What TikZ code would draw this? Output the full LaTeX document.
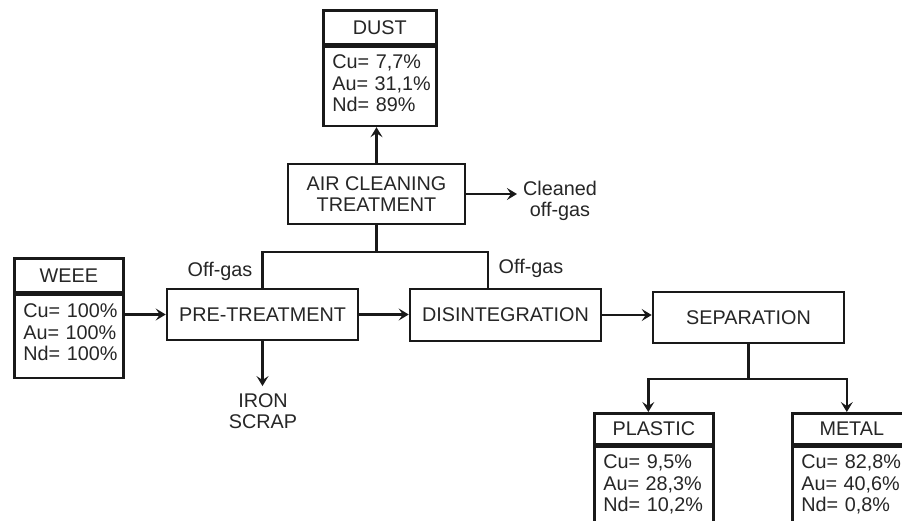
\documentclass[tikz,border=0pt]{standalone}
\usepackage{fontspec}
\setmainfont{Liberation Sans}
\usetikzlibrary{arrows.meta,calc}
\begin{document}
\begin{tikzpicture}[x=1pt,y=-1pt,
  font=\fontsize{19.8}{21.5}\selectfont,
  every node/.style={text=black!85},
  ln/.style={line width=2.6pt, draw=black!90},
  proc/.style={ln, draw, rectangle, inner sep=0pt, minimum width=191pt, minimum height=51pt, align=center},
  hdr/.style={ln, draw, rectangle, inner sep=0pt, anchor=north west},
  body/.style={ln, draw, rectangle, inner xsep=9pt, inner ysep=0pt, anchor=north west, align=left, text height=22pt},
  arr/.style={ln, -{Stealth[length=10pt,width=12pt,inset=4pt]}},
  lbl/.style={inner sep=0pt, align=center}]
\path[use as bounding box, fill=white] (0,0) rectangle (902,521);
\clip (0,0) rectangle (902,521);

% process boxes
\node[proc, minimum width=177pt, minimum height=60pt] (air) at (376.5,194) {AIR CLEANING\\TREATMENT};
\node[proc] (pre) at (262.5,314.5) {PRE-TREATMENT};
\node[proc, minimum height=52pt] (dis) at (505.5,315) {DISINTEGRATION};
\node[proc] (sep) at (748.5,317.5) {SEPARATION};

% boxes with header
\node[hdr, minimum width=113pt, minimum height=34pt] (dusth) at (322,9) {DUST};
\node[body, text width=95pt, text depth=57pt] (dustb) at (dusth.south west) {Cu=~7,7\%\\Au=~31,1\%\\Nd=~89\%};

\node[hdr, minimum width=109pt, minimum height=34pt] (weeeh) at (13,257) {WEEE};
\node[body, text width=91pt, text height=23pt, text depth=60pt] (weeeb) at (weeeh.south west) {Cu=~100\%\\Au=~100\%\\Nd=~100\%};

\node[hdr, minimum width=119pt, minimum height=31pt] (plah) at (593,412) {PLASTIC};
\node[body, text width=101pt, text depth=80pt] (plab) at (plah.south west) {Cu=~9,5\%\\Au=~28,3\%\\Nd=~10,2\%};

\node[hdr, minimum width=119pt, minimum height=31pt] (meth) at (791,412) {METAL};
\node[body, text width=101pt, text depth=80pt] (metb) at (meth.south west) {Cu=~82,8\%\\Au=~40,6\%\\Nd=~0,8\%};

% labels
\node[lbl, inner xsep=6pt] (clean) at (560,201) {Cleaned\\off-gas};
\node[lbl] (og1) at (220,271) {Off-gas};
\node[lbl] (og2) at (531,268) {Off-gas};
\node[lbl, inner ysep=7pt] (iron) at (263,411) {IRON\\SCRAP};

% connectors
\draw[arr] (air.north) -- (air.north |- dustb.south);
\draw[arr] (air.east) -- (air.east -| clean.west);
\coordinate (j) at (376.5,252);
\draw[ln] (air.south) -- (j);
\draw[ln] (pre.north) |- (j) -| ([xshift=-17.5pt]dis.north);
\draw[arr] (weeeb.east |- pre.west) -- (pre.west);
\draw[arr] (pre.east) -- (pre.east -| dis.west);
\draw[arr] (dis.east) -- (dis.east -| sep.west);
\draw[arr] (pre.south) -- (pre.south |- iron.north);
\coordinate (k) at (748.5,379);
\draw[ln] (sep.south) -- (k);
\draw[arr] (k) -| ([xshift=-5.5pt]plah.north);
\draw[arr] (k) -| ([xshift=-5pt]meth.north);
\end{tikzpicture}
\end{document}
